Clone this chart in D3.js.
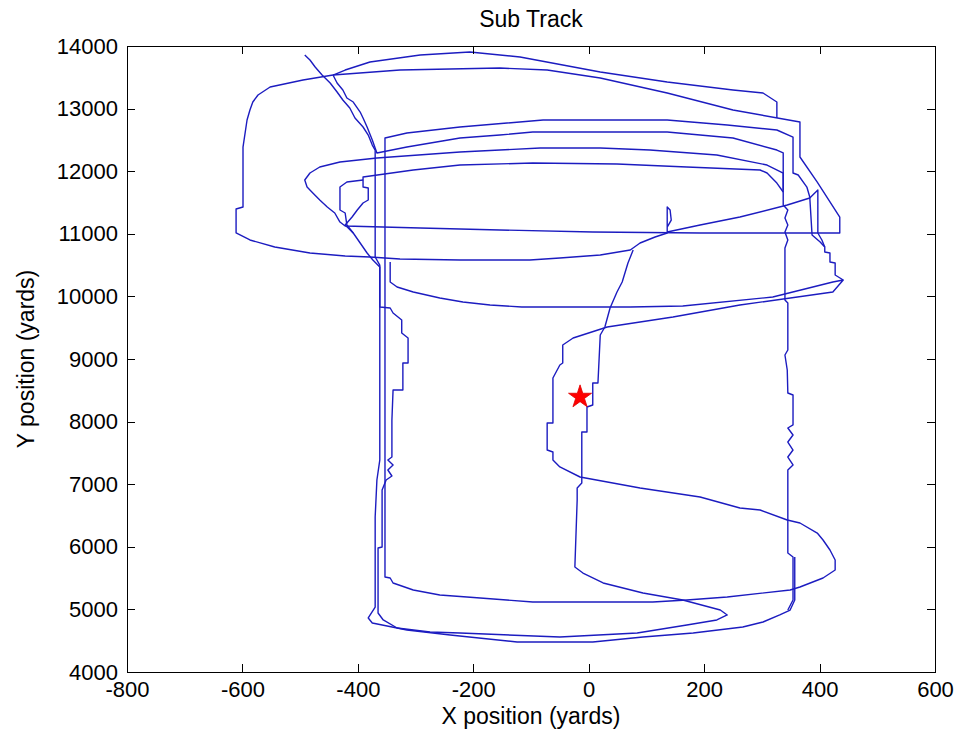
<!DOCTYPE html>
<html>
<head>
<meta charset="utf-8">
<script src="https://cdn.jsdelivr.net/npm/d3@7"></script>
<style>
  body { margin: 0; background: #fff; }
  .axis text { font-family: "Liberation Sans", Arial, sans-serif; font-size: 22px; fill: #000; }
  .axis path, .axis line { stroke: #000; stroke-width: 1; shape-rendering: crispEdges; }
  .label { font-family: "Liberation Sans", Arial, sans-serif; font-size: 23px; fill: #000; }
  .track { fill: none; stroke: #1c1cc0; stroke-width: 1.4; stroke-linejoin: round; }
</style>
</head>
<body>
<div id="chart"></div>
<script>
(function(){

  //track legs in yards [x, y]
  var legNorth = [[326,12850],[326,13105],[302,13249],[250,13297],[136,13425],[20,13584],[-119,13824],[-206,13904],
    [-292,13856],[-379,13744],[-422,13616],[-443,13536],[-495,13457],[-552,13345],[-573,13217],[-582,13105],
    [-587,12977],[-592,12818],[-599,12386],[-599,11428],[-611,11396],[-611,11013],[-587,10901],[-544,10789],
    [-483,10693],[-422,10645],[-379,10629],[-327,10597],[-223,10581],[-102,10581],[-50,10613],[20,10661],
    [72,10741],[89,10853],[115,10949],[136,11013],[136,11428],[141,11380],[143,11220],[136,11108],[136,11029],
    [193,11140],[262,11268],[344,11460],[383,11572],[397,11699],[397,11013],[404,10901],[409,10789]];

  var legEllipse = [[-443,13536],[-327,13616],[-154,13648],[-72,13616],[20,13489],[136,13249],[250,12977],
    [366,12786],[366,12227],[396,11827],[435,11268],[435,11013],[193,11013],[7,11029],[-154,11061],[-292,11092],
    [-422,11124],[-431,11188],[-440,11332],[-453,11428],[-466,11540],[-478,11652],[-488,11747],[-492,11859],
    [-483,11971],[-466,12067],[-431,12147],[-367,12211],[-223,12306],[-84,12370],[20,12370],[106,12338],
    [222,12259],[309,12099],[337,11971],[337,11699]];

  var legWest = [[-492,13856],[-483,13776],[-474,13664],[-462,13536],[-448,13409],[-436,13265],[-426,13137],
    [-414,13009],[-405,12850],[-391,12706],[-382,12578],[-375,12418],[-370,12338],[-370,10629],[-362,10501],
    [-362,7386],[-367,7067],[-370,6476],[-370,5038],[-382,4863],[-375,4783],[-315,4671],[-240,4591],[-124,4479],
    [7,4479],[94,4559],[181,4623],[267,4719],[302,4799],[331,4911],[349,4990],[357,5150],[357,5837]];

  var legS = [[441,10262],[427,10342],[427,10533],[418,10549],[418,10693],[409,10709],[409,10789],[401,10869],[387,10981],
    [383,11588],[378,11747],[363,11939],[354,11971],[354,12546],[326,12658],[240,12738],[136,12818],[-79,12818],
    [-223,12706],[-315,12610],[-353,12530],[-353,5518],[-344,5502],[-339,5422],[-304,5310],[-258,5230],
    [-211,5198],[-97,5118],[111,5118],[170,5150],[240,5198],[349,5310],[366,5358],[406,5502],[427,5629],
    [427,5789],[418,5949],[406,6109],[396,6220],[366,6380],[344,6428],[297,6588],[262,6620],[193,6795],
    [89,6939],[-15,7115],[-50,7275],[-62,7386],[-62,7514],[-72,7546],[-72,7978],[-62,7978],[-62,8696],
    [-50,8904],[-45,8936],[-45,9223],[-27,9335],[32,9511],[146,9671],[262,9862],[423,10070],[441,10262],
    [423,10230],[319,9990],[163,9846],[72,9831],[-116,9831],[-171,9862],[-218,9910],[-258,9974],[-304,10070],
    [-332,10150],[-344,10230],[-344,10549]];

  var legStar = [[77,10741],[68,10533],[58,10230],[49,10070],[37,9815],[28,9511],[20,9383],[16,8616],[7,8616],
    [7,8265],[-3,8233],[-3,7834],[-12,7834],[-12,7019],[-20,6939],[-20,6748],[-24,5677],[-10,5581],[25,5422],
    [94,5262],[163,5150],[228,4990],[240,4911],[222,4831],[170,4751],[84,4623],[-50,4559],[-223,4623],
    [-275,4639],[-332,4703],[-356,4831],[-365,4942],[-365,5981],[-358,5997],[-358,6540]];

  var legWestStairs = [[-358,6540],[-358,6907],[-351,7067],[-341,7131],[-348,7227],[-339,7307],[-348,7386],
    [-341,7434],[-341,8025],[-339,8505],[-322,8505],[-322,8936],[-313,8936],[-313,9335],[-324,9415],[-324,9623],
    [-339,9735],[-344,9815],[-362,9831],[-362,10469],[-374,10581],[-384,10693],[-396,10853],[-408,11013],
    [-422,11140],[-410,11268],[-401,11380],[-391,11492],[-382,11540],[-382,11731],[-391,11747],[-391,11907],
    [-304,12019],[-223,12099],[-97,12131],[49,12115],[170,12067],[297,12019],[309,11971],[326,11811],[337,11668]];

  var legInner = [[-443,13536],[-436,13409],[-426,13297],[-419,13169],[-408,13105],[-396,12945],[-391,12850],
    [-384,12706],[-375,12498],[-367,12291],[-315,12386],[-223,12530],[-154,12578],[-97,12626],[136,12626],
    [250,12530],[326,12338],[337,12291],[337,11588]];

  var legLoop = [[-391,11859],[-419,11827],[-431,11747],[-431,11380],[-422,11332],[-419,11140],[-408,11013]];

  var legEast = [[337,11588],[337,11460],[345,11380],[340,11252],[345,11140],[340,11029],[345,10901],[340,10773],
    [340,10549],[340,9942],[345,9894],[345,9144],[340,9064],[344,8824],[345,8457],[354,8425],[354,7946],
    [345,7898],[354,7786],[345,7674],[354,7546],[345,7434],[354,7307],[345,7227],[345,5901],[354,5837],
    [354,5150],[345,4990]];

  var legs = [legNorth, legEllipse, legWest, legS, legStar, legWestStairs, legInner, legLoop, legEast];

  //current position marker
  var subNow = [-15, 8409];

  var xTicks = [-800, -600, -400, -200, 0, 200, 400, 600];
  var yTicks = [4000, 5000, 6000, 7000, 8000, 9000, 10000, 11000, 12000, 13000, 14000];

  //frame dimensions
  var width = 958,
      height = 740,
      margin = {left: 127, right: 23, top: 46, bottom: 68},
      innerWidth = width - margin.left - margin.right,
      innerHeight = height - margin.top - margin.bottom;

  var svg = d3.select("#chart")
    .append("svg")
    .attr("width", width)
    .attr("height", height);

  var g = svg.append("g")
    .attr("transform", "translate(" + margin.left + "," + margin.top + ")");

  var x = d3.scaleLinear().domain([-800, 600]).range([0, innerWidth]);
  var y = d3.scaleLinear().domain([4000, 14000]).range([innerHeight, 0]);

  //plain labels, hyphen minus and no thousands comma
  var plain = function(d){ return String(d); };

  var line = d3.line()
    .x(function(d){ return x(d[0]); })
    .y(function(d){ return y(d[1]); });

  //track legs
  g.selectAll(".track")
    .data(legs)
    .enter()
    .append("path")
    .attr("class", "track")
    .attr("d", line);

  //red star
  g.append("path")
    .attr("d", d3.symbol().type(d3.symbolStar).size(165)())
    .attr("transform", "translate(" + x(subNow[0]) + "," + (y(subNow[1]) + 1) + ")")
    .attr("fill", "#ff0000")
    .attr("stroke", "#e00000")
    .attr("stroke-width", 0.8);

  //axes, ticks pointing inward on all four sides
  g.append("g")
    .attr("class", "axis")
    .attr("transform", "translate(0," + innerHeight + ")")
    .call(d3.axisBottom(x).tickValues(xTicks).tickFormat(plain).tickSizeInner(-8).tickSizeOuter(0).tickPadding(9));

  g.append("g")
    .attr("class", "axis")
    .call(d3.axisLeft(y).tickValues(yTicks).tickFormat(plain).tickSizeInner(-8).tickSizeOuter(0).tickPadding(9));

  g.append("g")
    .attr("class", "axis")
    .call(d3.axisTop(x).tickValues(xTicks).tickSizeInner(-8).tickSizeOuter(0).tickFormat(""));

  g.append("g")
    .attr("class", "axis")
    .attr("transform", "translate(" + innerWidth + ",0)")
    .call(d3.axisRight(y).tickValues(yTicks).tickSizeInner(-8).tickSizeOuter(0).tickFormat(""));

  //title and axis labels
  svg.append("text")
    .attr("class", "label")
    .attr("x", margin.left + innerWidth / 2)
    .attr("y", 27)
    .attr("text-anchor", "middle")
    .text("Sub Track");

  svg.append("text")
    .attr("class", "label")
    .attr("x", margin.left + innerWidth / 2)
    .attr("y", 724)
    .attr("text-anchor", "middle")
    .text("X position (yards)");

  svg.append("text")
    .attr("class", "label")
    .attr("transform", "translate(34," + (margin.top + innerHeight / 2) + ") rotate(-90)")
    .attr("text-anchor", "middle")
    .text("Y position (yards)");

})();
</script>
</body>
</html>
